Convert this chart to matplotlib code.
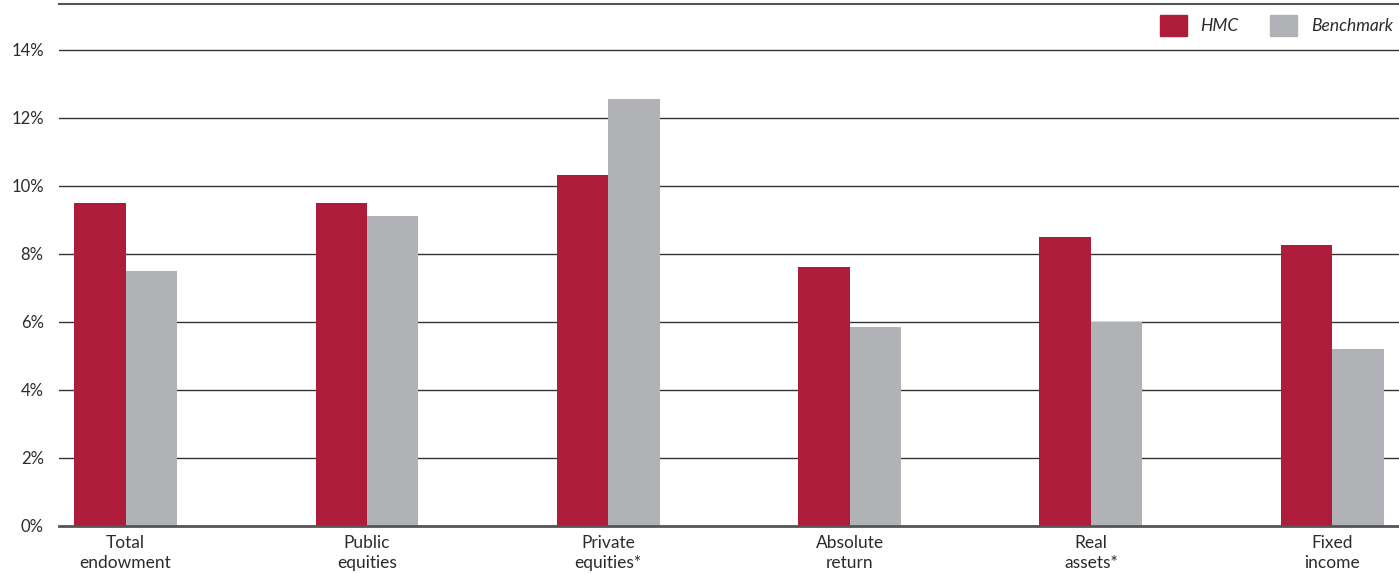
import matplotlib.pyplot as plt
from matplotlib.patches import Patch
import numpy as np

plt.rcParams['font.family'] = ['Lato', 'DejaVu Sans']

categories = ['Total\nendowment', 'Public\nequities', 'Private\nequities*',
              'Absolute\nreturn', 'Real\nassets*', 'Fixed\nincome']
hmc = [9.5, 9.5, 10.3, 7.6, 8.5, 8.25]
benchmark = [7.5, 9.1, 12.55, 5.85, 6.0, 5.2]
yticks = [0, 2, 4, 6, 8, 10, 12, 14]

HMC_COLOR = '#AE1C3C'
BENCH_COLOR = '#B1B2B6'
TEXT_COLOR = '#2b2b2b'

fig = plt.figure(figsize=(13.99, 5.74), dpi=100)
ax = fig.add_axes([59 / 1399, 48.5 / 574, 1340 / 1399, 521.5 / 574])

x = np.arange(len(categories))
w = 0.213
ax.bar(x - w / 2, hmc, w, color=HMC_COLOR, zorder=3)
ax.bar(x + w / 2, benchmark, w, color=BENCH_COLOR, zorder=3)

ax.set_xlim(-0.276, 5.277)
ax.set_ylim(0, 15.34)

ax.set_yticks(yticks)
ax.set_yticklabels([f'{t}%' for t in yticks], fontsize=12, color=TEXT_COLOR)
ax.set_xticks(x)
ax.set_xticklabels(categories, fontsize=12.5, color=TEXT_COLOR, linespacing=1.3)
ax.tick_params(axis='both', length=0)
ax.tick_params(axis='y', pad=11)
ax.tick_params(axis='x', pad=7)

ax.grid(axis='y', color='#333333', linewidth=1.0, zorder=1)
for side in ['left', 'right']:
    ax.spines[side].set_visible(False)
ax.spines['top'].set_color('#555555')
ax.spines['top'].set_linewidth(1.5)
ax.spines['bottom'].set_color('#555555')
ax.spines['bottom'].set_linewidth(2)
ax.spines['bottom'].set_zorder(4)

handles = [Patch(color=HMC_COLOR, label='HMC'), Patch(color=BENCH_COLOR, label='Benchmark')]
leg = ax.legend(handles=handles, loc='upper right', ncol=2, frameon=False,
                bbox_to_anchor=(1.0, 0.985), bbox_transform=fig.transFigure,
                handlelength=1.55, handleheight=1.55, handletextpad=0.8,
                columnspacing=1.8, borderaxespad=0.05, borderpad=0.3,
                prop={'style': 'italic', 'size': 12.5})
for t in leg.get_texts():
    t.set_color(TEXT_COLOR)

fig.savefig('out.png', dpi=100)
